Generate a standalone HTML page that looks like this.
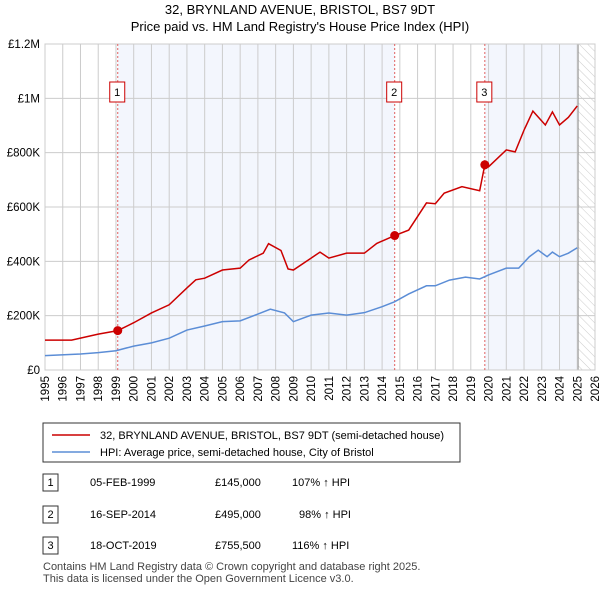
<!DOCTYPE html>
<html><head><meta charset="utf-8"><style>
body{margin:0;background:#fff;font-family:"Liberation Sans","DejaVu Sans",sans-serif;color:#000}
svg text{font-family:"Liberation Sans","DejaVu Sans",sans-serif}
</style></head><body>
<svg id="chart" width="600" height="590" viewBox="0 0 600 590">
<defs><pattern id="hatch" width="6" height="6" patternUnits="userSpaceOnUse" patternTransform="rotate(-45)"><line x1="0" y1="0" x2="0" y2="6" stroke="#ccc" stroke-width="1"/></pattern></defs>
<text x="300" y="14" text-anchor="middle" font-size="13">32, BRYNLAND AVENUE, BRISTOL, BS7 9DT</text>
<text x="300" y="31" text-anchor="middle" font-size="13">Price paid vs. HM Land Registry's House Price Index (HPI)</text>
<g id="plot"></g>
<g>
<rect x="43" y="423" width="417" height="39" fill="#fff" stroke="#333"/>
<line x1="52" y1="435" x2="90" y2="435" stroke="#cc0000" stroke-width="1.5"/>
<text x="100" y="439" font-size="11">32, BRYNLAND AVENUE, BRISTOL, BS7 9DT (semi-detached house)</text>
<line x1="52" y1="452" x2="90" y2="452" stroke="#5b8dd6" stroke-width="1.5"/>
<text x="100" y="456" font-size="11">HPI: Average price, semi-detached house, City of Bristol</text>
</g>
<g font-size="11">
<rect x="43" y="474" width="15" height="17" fill="#fff" stroke="#333"/><text x="50.5" y="486" text-anchor="middle">1</text>
<text x="90" y="486">05-FEB-1999</text><text x="215" y="486">£145,000</text><text x="292" y="486">107% ↑ HPI</text>
<rect x="43" y="506" width="15" height="17" fill="#fff" stroke="#333"/><text x="50.5" y="518" text-anchor="middle">2</text>
<text x="90" y="518">16-SEP-2014</text><text x="215" y="518">£495,000</text><text x="299" y="518">98% ↑ HPI</text>
<rect x="43" y="537" width="15" height="17" fill="#fff" stroke="#333"/><text x="50.5" y="549" text-anchor="middle">3</text>
<text x="90" y="549">18-OCT-2019</text><text x="215" y="549">£755,500</text><text x="292" y="549">116% ↑ HPI</text>
</g>
<text x="43" y="570" font-size="11" fill="#444">Contains HM Land Registry data © Crown copyright and database right 2025.</text>
<text x="43" y="582" font-size="11" fill="#444">This data is licensed under the Open Government Licence v3.0.</text>
</svg>
<script>
const redYears=[1995,1996.5,1998,1999.1,2000,2001,2002,2003,2003.5,2004,2005,2006,2006.5,2007.3,2007.6,2008.3,2008.7,2009,2010,2010.5,2011,2012,2013,2013.7,2014.71,2015.5,2016.5,2017,2017.5,2018.5,2019.5,2019.79,2020,2021,2021.5,2022,2022.5,2023.2,2023.6,2024,2024.5,2025];
const redValues=[110,110,132,145,174,210,240,302,332,338,368,375,405,430,465,440,372,368,412,434,412,430,430,466,495,515,615,612,651,675,660,755.5,748,810,803,883,953,902,950,902,930,972];
const blueYears=[1995,1997,1998,1999,2000,2001,2002,2003,2004,2005,2006,2007,2007.7,2008.5,2009,2010,2011,2012,2013,2014,2014.7,2015.5,2016.5,2017,2017.8,2018.7,2019.5,2020,2021,2021.7,2022.3,2022.8,2023.3,2023.6,2024,2024.5,2025];
const blueValues=[53,59,64,71,88,100,117,147,162,178,181,206,224,210,178,202,210,202,211,233,251,280,310,310,331,342,335,350,375,375,417,441,417,434,417,430,450];
const saleYears=[1999.1,2014.71,2019.79];
const saleValues=[145,495,755.5];
const saleLabels=["1","2","3"];
const yTicks=[0,200,400,600,800,1000,1200];
const yTickLabels=["£0","£200K","£400K","£600K","£800K","£1M","£1.2M"];
const xTicks=[1995,1996,1997,1998,1999,2000,2001,2002,2003,2004,2005,2006,2007,2008,2009,2010,2011,2012,2013,2014,2015,2016,2017,2018,2019,2020,2021,2022,2023,2024,2025,2026];

const L=45,R=595,T=44,B=370;
const x=y=>L+(y-1995)/31*(R-L);
const yv=v=>B-v/1200*(B-T);
const g=document.getElementById('plot');
const NS='http://www.w3.org/2000/svg';
function mk(t,a,p){const e=document.createElementNS(NS,t);for(const k in a)e.setAttribute(k,a[k]);(p||g).appendChild(e);return e;}
mk('rect',{x:L,y:T,width:R-L,height:B-T,fill:'#fff'});
let sh=mk('rect',{x:x(saleYears[0]),y:T,width:x(saleYears[1])-x(saleYears[0]),height:B-T,fill:'#f3f6fd'});


sh=mk('rect',{x:x(saleYears[2]),y:T,width:x(2025.05)-x(saleYears[2]),height:B-T,fill:'#f3f6fd'});


const ht=mk('rect',{x:x(2025.05),y:T,width:R-x(2025.05),height:B-T,fill:'url(#hatch)'});


xTicks.forEach(t=>{
  mk('line',{x1:x(t),y1:T,x2:x(t),y2:B,stroke:'#ccc'});
  const tx=mk('text',{x:0,y:0,'text-anchor':'end','font-size':11.5,transform:'translate('+(x(t)+4)+',376) rotate(-90)'});tx.textContent=t;
  
  
});
yTicks.forEach((t,i)=>{
  mk('line',{x1:L,y1:yv(t),x2:R,y2:yv(t),stroke:'#ccc'});
  const tx=mk('text',{x:40,y:yv(t)+4,'text-anchor':'end','font-size':11.5});tx.textContent=yTickLabels[i];
  
  
});
mk('line',{x1:x(2025.05),y1:T,x2:x(2025.05),y2:B,stroke:'#999'});
mk('rect',{x:L,y:T,width:R-L,height:B-T,fill:'none',stroke:'#ccc'});
saleYears.forEach((s,i)=>{
  mk('line',{x1:x(s),y1:T,x2:x(s),y2:B,stroke:'#e06060','stroke-dasharray':'2,2'});
  const b=mk('rect',{x:x(s)-8,y:82,width:15,height:20,fill:'#fff',stroke:'#cc0000'});
  
  
  const tx=mk('text',{x:x(s)-0.5,y:96,'text-anchor':'middle','font-size':11});tx.textContent=saleLabels[i];
});
function path(xs,vs,c,n){
  const p=mk('polyline',{points:xs.map((a,i)=>x(a)+','+yv(vs[i])).join(' '),fill:'none',stroke:c,'stroke-width':1.5});
  
  
}
path(blueYears,blueValues,'#5b8dd6','hpi-line');
path(redYears,redValues,'#cc0000','property-price-line');
saleYears.forEach((s,i)=>{
  const c=mk('circle',{cx:x(s),cy:yv(saleValues[i]),r:4.5,fill:'#cc0000'});
  
  
});
</script>
</body></html>
